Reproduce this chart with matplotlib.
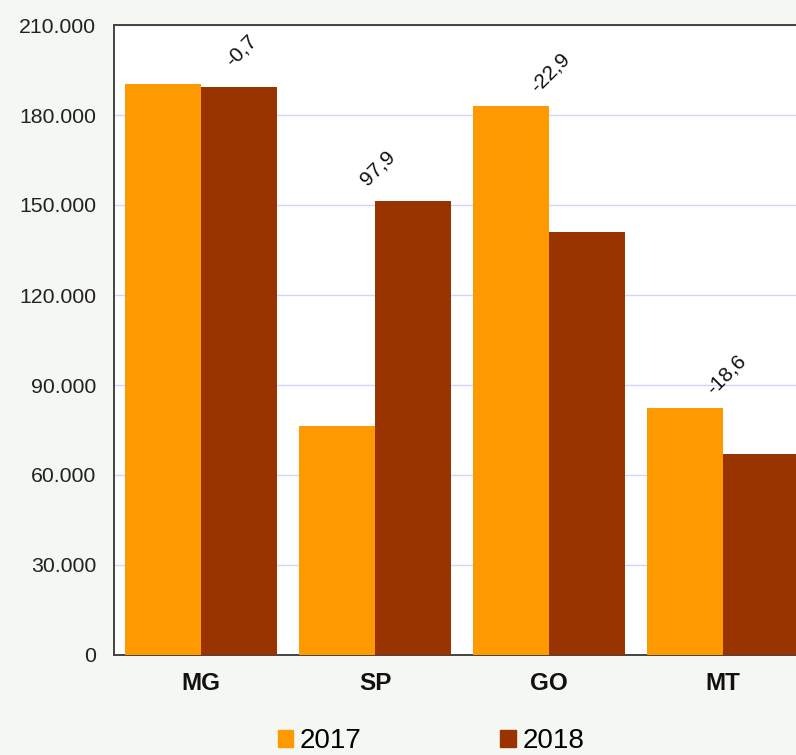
import matplotlib
matplotlib.use("Agg")
import matplotlib.pyplot as plt
from matplotlib.patches import Patch
from matplotlib.ticker import FuncFormatter, MultipleLocator
import numpy as np

plt.rcParams['font.family'] = ['Liberation Sans', 'DejaVu Sans']

states = ["MG", "SP", "GO", "MT"]
series_names = ["2017", "2018"]
values_2017 = [190300, 76300, 183000, 82300]
values_2018 = [189300, 151300, 141000, 67000]
change_pct = ["-0,7", "97,9", "-22,9", "-18,6"]

bg = "#f4f7f2"
c2017 = "#ff9900"
c2018 = "#993300"

fig = plt.figure(figsize=(7.96, 7.55), dpi=100, facecolor=bg)
W, H = 796, 755
ax = fig.add_axes([114 / W, 100 / H, 696 / W, 630 / H])
ax.set_facecolor("white")

x = np.arange(len(states))
bw = 0.437
ax.bar(x - bw / 2, values_2017, width=bw, color=c2017, zorder=3)
ax.bar(x + bw / 2, values_2018, width=bw, color=c2018, zorder=3)

ax.set_xlim(-0.5, len(states) - 0.5)
ax.set_ylim(0, 210000)
ax.yaxis.set_major_locator(MultipleLocator(30000))
ax.yaxis.set_major_formatter(
    FuncFormatter(lambda v, p: f"{int(v):,}".replace(",", "."))
)
ax.grid(axis="y", color="#d4d4fa", linewidth=1.0, zorder=0)
ax.set_axisbelow(True)

ax.set_xticks(x)
ax.set_xticklabels(states, fontsize=17.5, fontweight="bold", color="#111111")
ax.tick_params(axis="x", length=0, pad=12)
ax.tick_params(axis="y", length=0, pad=13, labelsize=15.3, labelcolor="#222222")

for side in ["left", "bottom", "top", "right"]:
    ax.spines[side].set_color("#444444")
    ax.spines[side].set_linewidth(1.4)

# percentage change labels above each state's pair of bars
nudge = [29, 2, 1, 2]
for i, lab in enumerate(change_pct):
    top = max(values_2017[i], values_2018[i])
    ax.annotate(lab, xy=(x[i], top), xytext=(nudge[i], 24),
                textcoords="offset points", rotation=45,
                ha="center", va="center", fontsize=15, color="#111111",
                zorder=5)

handles = [Patch(color=c2017), Patch(color=c2018)]
fig.legend(handles, series_names, loc="center",
           bbox_to_anchor=(431 / W, 1 - 741 / H), ncol=2, frameon=False,
           fontsize=20, handlelength=0.55, handleheight=0.55,
           handletextpad=0.25, columnspacing=5.0, borderpad=0.1)

fig.savefig("out.png", dpi=100, facecolor=bg)
